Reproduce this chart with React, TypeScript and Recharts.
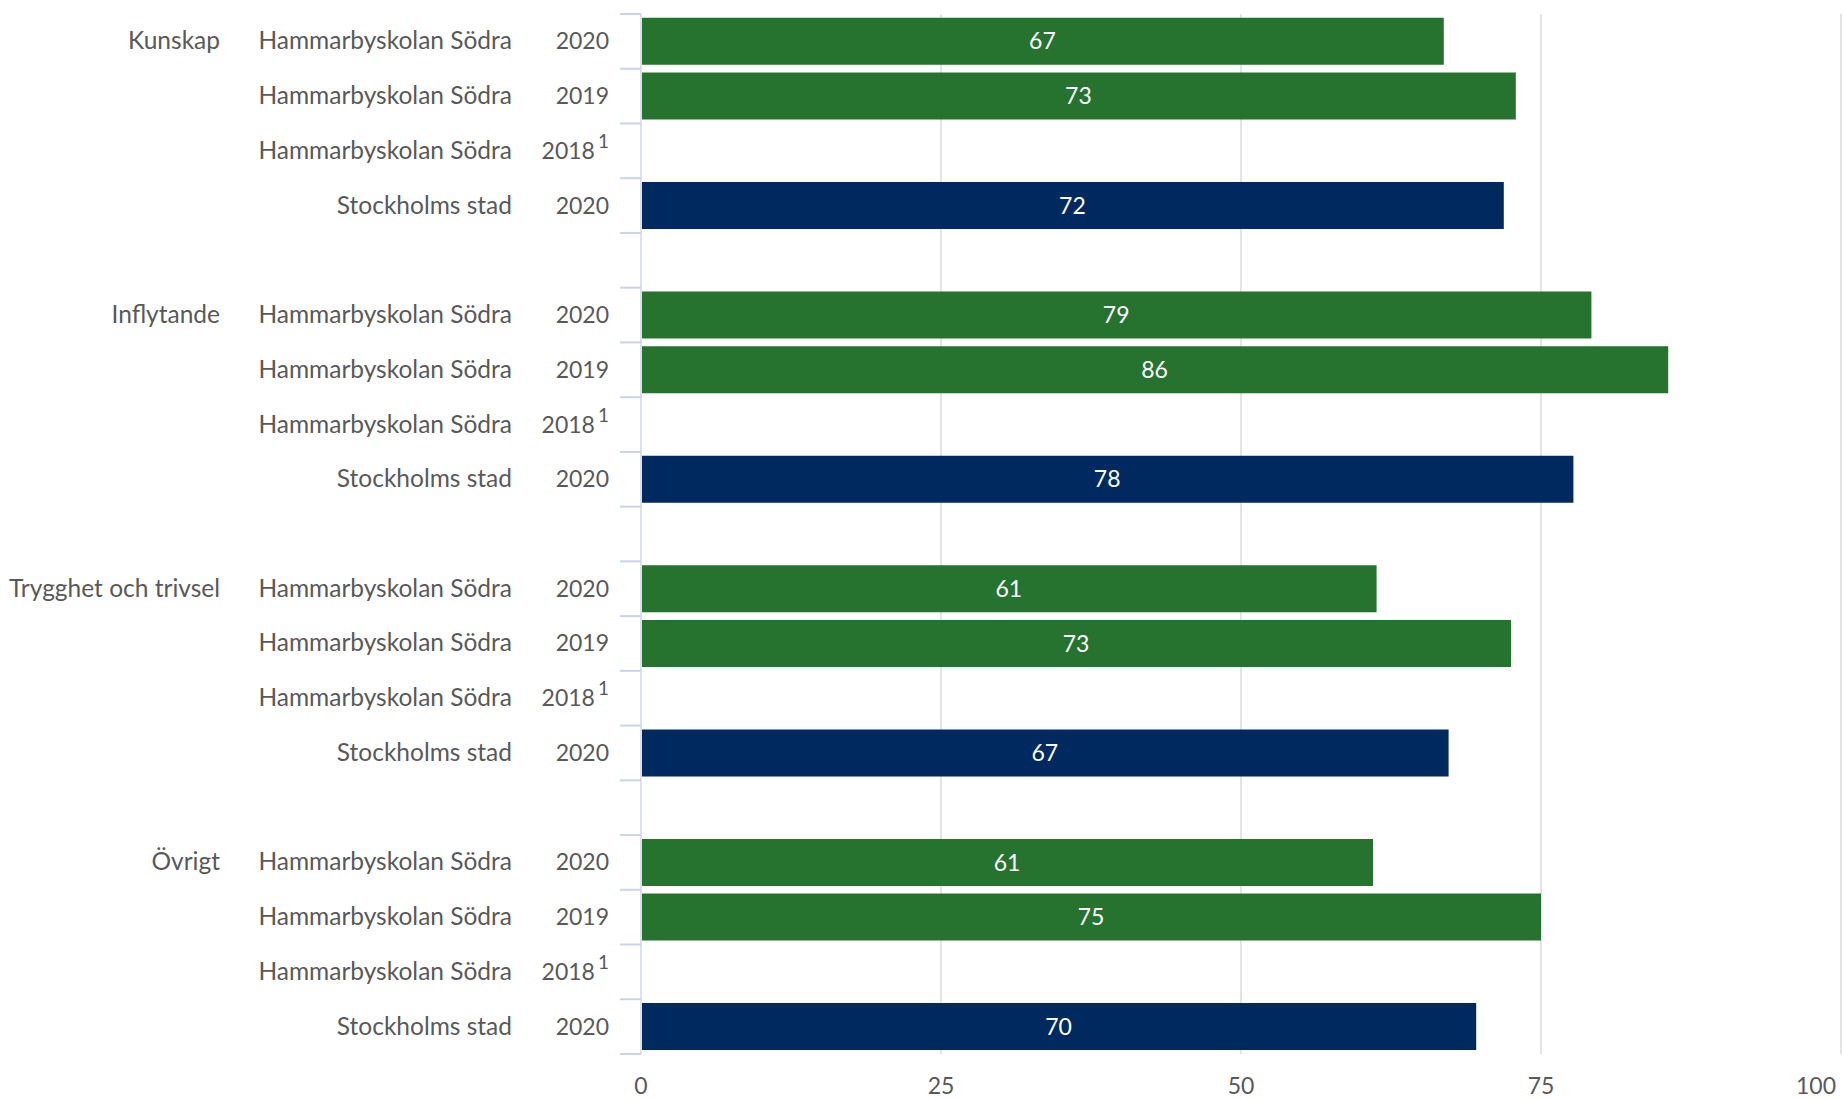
import React from "react";
import {
  BarChart,
  Bar,
  XAxis,
  YAxis,
  CartesianGrid,
  Cell,
  LabelList,
} from "recharts";

const groups = ["Kunskap", "Inflytande", "Trygghet och trivsel", "Övrigt"];
const school = "Hammarbyskolan Södra";
const city = "Stockholms stad";
const school2020 = [66.9, 79.2, 61.3, 61.0];
const school2019 = [72.9, 85.6, 72.5, 75.0];
const school2018: (number | null)[] = [null, null, null, null];
const city2020 = [71.9, 77.7, 67.3, 69.6];
const xTicks = [0, 25, 50, 75, 100];

const GREEN = "#26722f";
const NAVY = "#002a5f";
const TEXT = "#595959";
const FONT = "Lato, 'Noto Sans', sans-serif";

const W = 1843;
const H = 1099;
const X_H = 45;
const M = { top: 14, right: 2, bottom: 0, left: 0 };
const Y_W = 641;

interface Row {
  id: string;
  group: string;
  org: string;
  year: string;
  sup: boolean;
  value: number | null;
  kind: "school" | "city" | "gap";
}

const rows: Row[] = [];
groups.forEach((g, i) => {
  rows.push({ id: `${i}-a`, group: g, org: school, year: "2020", sup: false, value: school2020[i], kind: "school" });
  rows.push({ id: `${i}-b`, group: "", org: school, year: "2019", sup: false, value: school2019[i], kind: "school" });
  rows.push({ id: `${i}-c`, group: "", org: school, year: "2018", sup: true, value: school2018[i], kind: "school" });
  rows.push({ id: `${i}-d`, group: "", org: city, year: "2020", sup: false, value: city2020[i], kind: "city" });
  if (i < groups.length - 1) {
    rows.push({ id: `${i}-gap`, group: "", org: "", year: "", sup: false, value: null, kind: "gap" });
  }
});

const band = (H - M.top - X_H) / rows.length;

const YTick = (props: any) => {
  const { x, y, payload } = props;
  const idx = rows.findIndex((r) => r.id === payload.value);
  const r = rows[idx];
  if (!r) return null;
  const tickColor = "#c9d3ec";
  return (
    <g>
      <line x1={x - 21} x2={x} y1={y - band / 2} y2={y - band / 2} stroke={tickColor} strokeWidth={2} />
      {idx === rows.length - 1 && (
        <line x1={x - 21} x2={x} y1={y + band / 2} y2={y + band / 2} stroke={tickColor} strokeWidth={2} />
      )}
      {r.group && (
        <text x={x - 421} y={y} dy={8} textAnchor="end" fill={TEXT} fontSize={24.5}>
          {r.group}
        </text>
      )}
      {r.org && (
        <text x={x - 129} y={y} dy={8} textAnchor="end" fill={TEXT} fontSize={24.5}>
          {r.org}
        </text>
      )}
      {r.year && (
        <text x={x - 32} y={y} dy={8} textAnchor="end" fill={TEXT} fontSize={23}>
          {r.year}
          {r.sup && (
            <tspan dx={3} dy={-11} fontSize={19}>
              1
            </tspan>
          )}
        </text>
      )}
    </g>
  );
};

const XTick = (props: any) => {
  const { x, y, payload } = props;
  const last = payload.value === xTicks[xTicks.length - 1];
  return (
    <text
      x={x}
      y={y}
      dx={last ? 5 : 0}
      dy={40}
      textAnchor={last ? "end" : "middle"}
      fill={TEXT}
      fontSize={23}
    >
      {payload.value}
    </text>
  );
};

export default function App() {
  return (
    <div style={{ position: "absolute", left: 0, top: 0, width: W, height: H, background: "#fff" }}>
      <BarChart
        width={W}
        height={H}
        data={rows}
        layout="vertical"
        margin={M}
        barCategoryGap="7%"
        style={{ fontFamily: FONT }}
      >
        <CartesianGrid horizontal={false} stroke="#e4e4e4" strokeWidth={2} />
        <XAxis
          type="number"
          domain={[0, 100]}
          ticks={xTicks}
          axisLine={false}
          tickLine={false}
          tickSize={0}
          tickMargin={0}
          height={X_H}
          tick={<XTick />}
        />
        <YAxis
          type="category"
          dataKey="id"
          width={Y_W}
          axisLine={{ stroke: "#dde2ea", strokeWidth: 2 }}
          tickLine={false}
          tickSize={0}
          tickMargin={0}
          interval={0}
          tick={<YTick />}
        />
        <Bar dataKey="value" isAnimationActive={false}>
          {rows.map((r) => (
            <Cell key={r.id} fill={r.kind === "city" ? NAVY : GREEN} />
          ))}
          <LabelList
            dataKey="value"
            position="center"
            fill="#ffffff"
            fontSize={23}
            formatter={(v: any) => (v == null ? "" : Math.round(v))}
          />
        </Bar>
      </BarChart>
    </div>
  );
}
